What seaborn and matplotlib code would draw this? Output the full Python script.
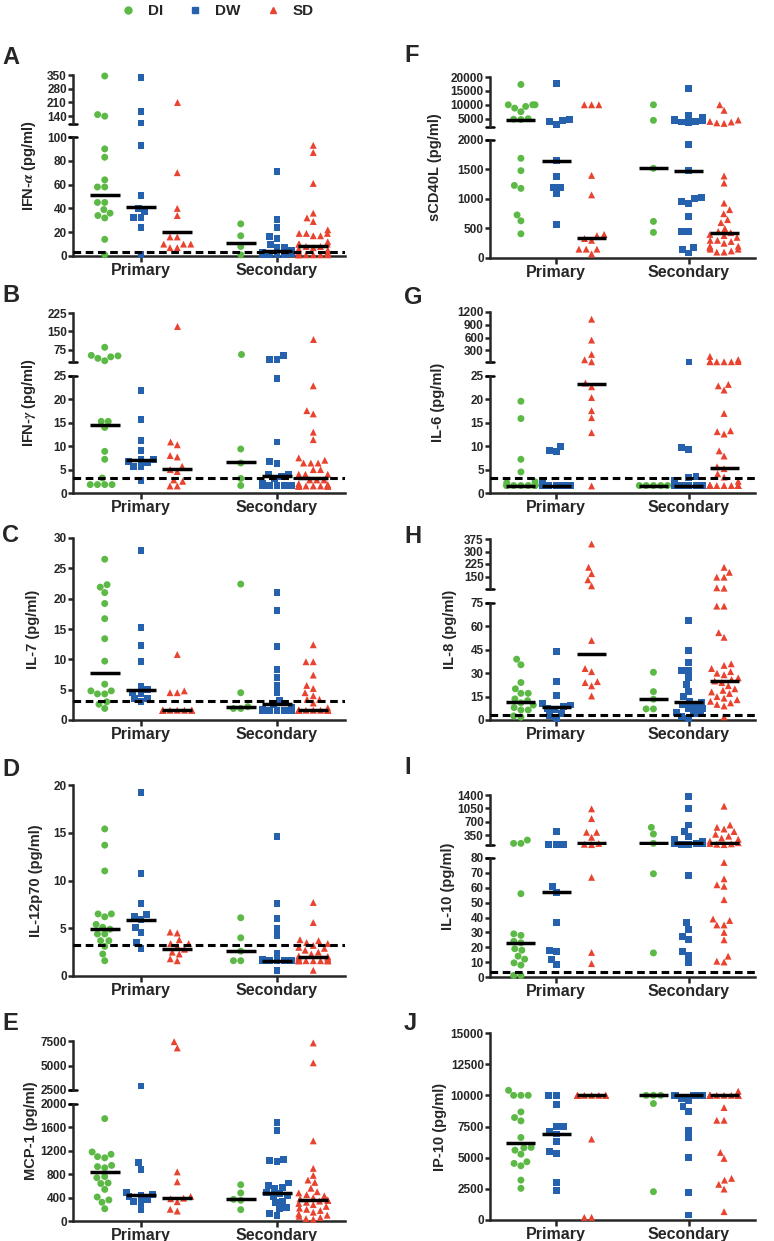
import numpy as np
import pandas as pd
import matplotlib
matplotlib.use('Agg')
import matplotlib.pyplot as plt
from matplotlib.lines import Line2D
from matplotlib.markers import MarkerStyle
import seaborn as sns
import warnings
warnings.filterwarnings('ignore')

phases = ['Primary', 'Secondary']
groups = ['DI', 'DW', 'SD']
colors = ['#5cb946', '#2561ad', '#e9432f']
markers = ['o', 's', '^']

# IFN-alpha
ifna_di_p = [345, 148, 140, 90, 83, 64, 58, 58, 45, 45, 39, 36, 34, 32, 14, 1]
ifna_dw_p = [336, 163, 105, 93, 51, 40, 37, 32, 32, 24, 1]
ifna_sd_p = [210, 70, 40, 34, 16, 16, 10, 10, 10, 7, 7]
ifna_di_s = [27, 17, 8, 1]
ifna_dw_s = [71, 31, 24, 16, 15, 10, 7, 7, 5, 3, 2, 1, 1, 1, 1]
ifna_sd_s = [93, 87, 61, 36, 32, 29, 22, 19, 19, 19, 17, 17, 12, 10, 10, 10, 8, 8, 7, 6,
             5, 4, 3, 2, 2, 1, 1, 1, 1, 1, 1]
ifna_med = [51, 41, 20.5, 11, 4, 8]

# IFN-gamma
ifng_di_p = [85, 52, 50, 46, 40, 30, 15.3, 15.3, 14, 8.9, 7.2, 3.2, 1.8, 1.8, 1.8, 1.8]
ifng_dw_p = [22, 15.8, 11.2, 9, 7.2, 7.2, 6.7, 6.5, 5.7, 5.7, 2.7]
ifng_sd_p = [170, 10.9, 10.3, 8, 7.7, 5.7, 5, 4.6, 2.8, 2.5, 1.5, 1.5]
ifng_di_s = [57, 9.4, 6.4, 3.1, 1.6]
ifng_dw_s = [50, 36, 36, 24.5, 10.9, 6.7, 6.4, 3.9, 3.9, 3.5, 3, 2, 1.7, 1.6, 1.6, 1.6, 1.6]
ifng_sd_s = [119, 22.9, 17.6, 16.9, 13, 11.4, 7.5, 7, 6.4, 6.4, 6.4, 5, 5, 4, 4, 4, 2.8, 2.8,
             2.8, 2, 1.8, 1.6, 1.5, 1.5, 1.5, 1.5, 1.5, 1.5, 1.5, 1.5, 1.5, 1.5, 1.5]
ifng_med = [14.5, 7, 5.2, 6.6, 3.6, 3.3]

# IL-7
il7_di_p = [26.5, 22.3, 21.9, 21, 19.2, 16.7, 13.4, 9.7, 5.9, 4.8, 4.8, 4.3, 4.3, 3, 2.6, 1.9]
il7_dw_p = [28, 15.2, 12.3, 9.6, 5.6, 5, 4.6, 4.4, 3.5, 3.5, 3.0]
il7_sd_p = [10.8, 4.8, 4.5, 4.5, 1.6, 1.6, 1.6, 1.6, 1.6, 1.6, 1.6, 1.6]
il7_di_s = [22.4, 4.5, 2.2, 1.9, 1.9]
il7_dw_s = [21, 18.1, 12.1, 8.3, 7, 5.7, 4.5, 3.2, 2.6, 2, 1.7, 1.6, 1.6, 1.6, 1.6, 1.6, 1.6, 1.6]
il7_sd_s = [12.4, 9.6, 9.6, 7.4, 5.7, 5.2, 4.5, 4, 3.4, 3.4, 2.8, 2, 1.6, 1.6, 1.6, 1.6,
            1.6, 1.6, 1.6, 1.6, 1.6, 1.6, 1.6, 1.6]
il7_med = [7.8, 4.9, 1.6, 2.2, 2.7, 1.6]

# IL-12p70
il12_di_p = [15.4, 13.7, 11, 6.5, 6.5, 6.2, 5.4, 5.1, 4.9, 4.4, 4.4, 3.7, 3.7, 3.1, 2.3, 1.6]
il12_dw_p = [19.2, 10.7, 7.6, 6.4, 6.2, 5.9, 5.1, 4.6, 3.5, 2.9]
il12_sd_p = [4.6, 4.5, 3.8, 3.4, 3.4, 3.1, 2.8, 2.5, 2.3, 1.8, 1.6]
il12_di_s = [6.1, 4, 2.6, 1.6, 1.6]
il12_dw_s = [14.6, 7.6, 6, 5, 4.2, 2.4, 1.7, 1.6, 1.6, 1.6, 1.6, 1.6, 0.6]
il12_sd_s = [7.7, 5.6, 3.8, 3.7, 3.5, 3.4, 3.2, 3.0, 2.9, 2.7, 2.5, 2.3, 2.1, 2.0, 2.0, 1.9,
             1.8, 1.7, 1.6, 1.6, 1.6, 1.6, 1.6, 1.6, 1.6, 1.6, 1.6, 0.6]
il12_med = [4.9, 5.9, 2.8, 2.6, 1.6, 2.0]

# MCP-1
mcp_di_p = [1750, 1180, 1140, 1100, 1080, 950, 930, 910, 760, 740, 650, 640, 540, 410, 360, 320, 210]
mcp_dw_p = [2940, 994, 885, 480, 460, 440, 420, 370, 330, 320, 200]
mcp_sd_p = [7430, 6790, 840, 670, 420, 390, 380, 330, 200, 170]
mcp_di_s = [620, 480, 370, 354, 194]
mcp_dw_s = [1680, 1540, 1050, 1040, 1010, 650, 610, 580, 560, 480, 470, 430, 420, 340, 310,
            230, 210, 130, 100]
mcp_sd_s = [7300, 5270, 1370, 900, 780, 700, 660, 560, 500, 480, 450, 430, 400, 380, 360, 350,
            340, 320, 300, 280, 250, 220, 200, 180, 150, 120, 100, 80, 60, 40, 30]
mcp_med = [835, 450, 390, 370, 480, 360]

# sCD40L
cd40_di_p = [17300, 10000, 10000, 10000, 9400, 8800, 7500, 5000, 4800, 4700, 1690, 1480, 1230,
             1180, 730, 630, 410]
cd40_dw_p = [17600, 4700, 4400, 4000, 3000, 1650, 1380, 1200, 1200, 1090, 575]
cd40_sd_p = [10000, 10000, 10000, 1400, 1070, 400, 380, 330, 300, 150, 150, 150, 70]
cd40_di_s = [10000, 4400, 1520, 620, 434]
cd40_dw_s = [16000, 6000, 5500, 4800, 4500, 4200, 4000, 3800, 3500, 1920, 1480, 1020, 1010, 960,
             930, 700, 450, 450, 170, 140, 85]
cd40_sd_s = [10000, 8000, 4500, 4000, 3800, 3500, 3300, 1390, 1270, 930, 820, 750, 650, 600, 500,
             450, 430, 400, 380, 350, 300, 300, 280, 250, 200, 200, 180, 150, 150, 120, 100, 100]
cd40_med = [4700, 1650, 340, 1520, 1480, 430]

# IL-6
il6_di_p = [19.6, 15.9, 7.2, 4.5, 2.4, 2.2, 1.8, 1.6, 1.6, 1.6, 1.6, 1.6, 1.6, 1.6, 1.6, 1.6]
il6_dw_p = [10, 9.1, 8.8, 2.7, 1.6, 1.6, 1.6, 1.6, 1.6, 1.6, 1.6]
il6_sd_p = [1030, 540, 204, 77, 30, 23.5, 22.7, 20.4, 17.6, 16.1, 12.9, 1.5]
il6_di_s = [1.6, 1.6, 1.6, 1.6, 1.6]
il6_dw_s = [30, 9.7, 9.3, 3.5, 3.3, 2.7, 1.6, 1.6, 1.6, 1.6, 1.6, 1.6, 1.6, 1.6, 1.6, 1.6, 1.6]
il6_sd_s = [157, 80, 40, 35, 30, 30, 30, 30, 23.2, 22.9, 22, 17, 13.3, 13.1, 12.6, 9, 7.9, 5.6,
            5.2, 4.1, 3.4, 2.5, 1.6, 1.6, 1.6, 1.6, 1.6, 1.6, 1.6, 1.6, 1.6, 1.6, 1.6, 1.6]
il6_med = [1.6, 1.6, 23.3, 1.6, 1.6, 5.4]

# IL-8
il8_di_p = [39, 35.4, 24, 20, 17.1, 17.1, 13.5, 12.4, 11, 9.6, 8, 6.4, 6.4, 2.6, 1.8]
il8_dw_p = [44, 24.6, 15.9, 10.3, 9.6, 8.5, 7.5, 6.4, 4.3, 3, 1]
il8_sd_p = [345, 205, 167, 130, 94, 51, 33, 31, 24.6, 24, 21.9, 15.4]
il8_di_s = [30.6, 18.2, 13.3, 7.1, 7.1]
il8_dw_s = [64, 44.4, 36.9, 31.7, 31.7, 27.2, 22.5, 18.2, 15, 12, 11.4, 10, 8.6, 7.5, 7.5, 5,
            4.3, 4.3, 2, 1]
il8_sd_s = [205, 175, 146, 146, 82, 80, 73, 73, 56, 53, 36, 35, 33, 31, 30, 29, 27, 26, 25, 24,
            22, 20, 19, 18, 17, 15, 14, 13, 12, 11, 10, 9, 2]
il8_med = [11.4, 8.2, 42, 13.3, 11.4, 25]

# IL-10
il10_di_p = [228, 142, 142, 56, 29, 28, 24, 23, 19, 18, 14, 12, 9.5, 8, 1, 1]
il10_dw_p = [463, 125, 125, 125, 61, 57, 36.5, 17.6, 16.9, 11.7, 8.3]
il10_sd_p = [1040, 787, 430, 430, 300, 140, 120, 110, 67, 16.5, 9]
il10_di_s = [558, 385, 142, 69.4, 16.2]
il10_dw_s = [1356, 1040, 620, 463, 316, 250, 200, 180, 150, 140, 130, 120, 110, 68, 36.5, 32,
             27, 25, 17, 14.7, 10]
il10_sd_s = [1110, 620, 560, 515, 450, 380, 330, 280, 250, 200, 160, 140, 130, 120, 110, 77, 66,
             62, 61, 52, 39, 38, 35, 35, 30, 25, 14, 10.6, 10.1]
il10_med = [23, 57, 142, 142, 142, 142]

# IP-10
ip10_di_p = [10400, 10000, 10000, 10000, 8670, 8220, 7950, 6620, 5820, 5790, 5600, 5280, 4670,
             4540, 4350, 3200, 2540]
ip10_dw_p = [10000, 10000, 9290, 7530, 7530, 7070, 6900, 6330, 5520, 5340, 2990, 2350]
ip10_sd_p = [10000, 10000, 10000, 10000, 10000, 10000, 10000, 10000, 6490, 210, 210]
ip10_di_s = [10000, 10000, 10000, 9340, 2270]
ip10_dw_s = [10000, 10000, 10000, 10000, 10000, 10000, 10000, 10000, 10000, 9740, 9550, 9070,
             8730, 7150, 6590, 5020, 2190, 400]
ip10_sd_s = [10330, 10000, 10000, 10000, 10000, 10000, 10000, 10000, 10000, 10000, 10000, 9020,
             8000, 8000, 5420, 4940, 3340, 3200, 2860, 2480, 670]
ip10_med = [6150, 6930, 10000, 10000, 10000, 10000]

LOD = 3.2

sns.set_style('ticks')
plt.rcParams['font.family'] = ['Liberation Sans', 'DejaVu Sans']
plt.rcParams['font.weight'] = 'bold'
plt.rcParams['mathtext.fontset'] = 'stix'

pal = dict(zip(groups, colors))
W, H = 774, 1241
fig = plt.figure(figsize=(W / 100, H / 100), dpi=100)
step = 0.8 / 3
offsets = np.array([-step, 0, step])


def marker_path(m):
    ms = MarkerStyle(m)
    return ms.get_path().transformed(ms.get_transform())


def make_frame(lists):
    rows = []
    for k, vals in enumerate(lists):
        xpos = k // 3 + offsets[k % 3]
        rows += [(phases[k // 3], groups[k % 3], xpos, v) for v in vals]
    return pd.DataFrame(rows, columns=['phase', 'group', 'x', 'value'])


def add_ax(x0, x1, y0, y1):
    return fig.add_axes([x0 / W, 1 - y1 / H, (x1 - x0) / W, (y1 - y0) / H])


def draw_axis(ax, df, meds, lo, hi, ylim, ticks, is_bottom, lod, cap):
    sub = df[(df['value'] > lo) & (df['value'] <= hi)]
    sns.swarmplot(data=sub, x='x', y='value', hue='group', hue_order=groups, palette=pal,
                  native_scale=True, orient='x', size=5, legend=False, ax=ax)
    # one marker shape per group
    for coll in ax.collections:
        pts = coll.get_offsets()
        if len(pts) == 0:
            continue
        x0 = pts[0][0]
        gi = int(round((x0 - round(x0)) / step)) + 1
        coll.set_paths([marker_path(markers[gi])])
        coll.set_clip_on(False)
    for k, med in enumerate(meds):
        if lo < med <= hi:
            x = k // 3 + offsets[k % 3]
            ax.hlines(med, x - 0.11, x + 0.11, color='black', lw=2.5, zorder=5)
    ax.set_xlim(-0.5, 1.5)
    ax.set_ylim(*ylim)
    ax.set_yticks(ticks)
    ax.set_yticklabels([str(t) for t in ticks])
    ax.set_xlabel('')
    ax.set_ylabel('')
    sns.despine(ax=ax)
    ax.spines['left'].set_linewidth(1.8)
    ax.spines['bottom'].set_linewidth(1.8)
    ax.tick_params(axis='y', direction='out', length=3.5, width=1.8, labelsize=8.5, pad=1)
    if is_bottom:
        ax.set_xticks([0, 1])
        ax.set_xticklabels(phases)
        ax.tick_params(axis='x', direction='out', length=4, width=1.8, labelsize=11.5, pad=1)
        if lod is not None:
            ax.axhline(lod, color='black', lw=2.2, ls=(0, (2.5, 1.5)), zorder=4)
    else:
        ax.spines['bottom'].set_visible(False)
        ax.tick_params(axis='x', bottom=False, labelbottom=False)
    if cap is not None:
        ax.plot([-0.016, 0.016], [cap, cap], transform=ax.transAxes, color='black',
                lw=1.8, clip_on=False)


def draw_panel(letter, ylabel, lists, meds, col, top, bottom, lod, lab_x, let_y):
    df = make_frame(lists)
    x0, x1 = (73, 345) if col == 0 else (490, 755)
    by0, by1, bticks, bylim = bottom
    if top is not None:
        ty0, ty1, tticks, tylim = top
        tax = add_ax(x0, x1, ty0, ty1)
        draw_axis(tax, df, meds, bylim[1], np.inf, tylim, tticks, False, None, 0)
        y_top = ty0
    else:
        y_top = by0
    bax = add_ax(x0, x1, by0, by1)
    draw_axis(bax, df, meds, -np.inf, bylim[1], bylim, bticks, True, lod,
              1 if top is not None else None)
    fig.text(lab_x / W, 1 - (y_top + by1) / 2 / H, ylabel, rotation=90, ha='center',
             va='center', fontsize=10.5, fontweight='bold')
    fig.text((2 if col == 0 else 404) / W, 1 - let_y / H, letter, fontsize=17,
             fontweight='bold', va='center', ha='left')


draw_panel('A', 'IFN-$\\alpha$ (pg/ml)',
           [ifna_di_p, ifna_dw_p, ifna_sd_p, ifna_di_s, ifna_dw_s, ifna_sd_s], ifna_med, 0,
           (75, 124, [140, 210, 280, 350], (100, 350)),
           (137, 256, [0, 20, 40, 60, 80, 100], (0, 100)), LOD, 29, 57)
draw_panel('B', 'IFN-$\\gamma$ (pg/ml)',
           [ifng_di_p, ifng_dw_p, ifng_sd_p, ifng_di_s, ifng_dw_s, ifng_sd_s], ifng_med, 0,
           (313, 362, [75, 150, 225], (25, 225)),
           (376, 493, [0, 5, 10, 15, 20, 25], (0, 25)), LOD, 29, 295)
draw_panel('C', 'IL-7 (pg/ml)',
           [il7_di_p, il7_dw_p, il7_sd_p, il7_di_s, il7_dw_s, il7_sd_s], il7_med, 0, None,
           (538, 720, [0, 5, 10, 15, 20, 25, 30], (0, 30)), LOD, 33, 536)
draw_panel('D', 'IL-12p70 (pg/ml)',
           [il12_di_p, il12_dw_p, il12_sd_p, il12_di_s, il12_dw_s, il12_sd_s], il12_med, 0, None,
           (785, 976, [0, 5, 10, 15, 20], (0, 20)), LOD, 36, 769)
draw_panel('E', 'MCP-1 (pg/ml)',
           [mcp_di_p, mcp_dw_p, mcp_sd_p, mcp_di_s, mcp_dw_s, mcp_sd_s], mcp_med, 0,
           (1041, 1090, [2500, 5000, 7500], (2500, 7500)),
           (1104, 1221, [0, 400, 800, 1200, 1600, 2000], (0, 2000)), None, 31, 1024)
draw_panel('F', 'sCD40L (pg/ml)',
           [cd40_di_p, cd40_dw_p, cd40_sd_p, cd40_di_s, cd40_dw_s, cd40_sd_s], cd40_med, 1,
           (77, 127, [5000, 10000, 15000, 20000], (2000, 20000)),
           (140, 258, [0, 500, 1000, 1500, 2000], (0, 2000)), None, 435, 55)
draw_panel('G', 'IL-6 (pg/ml)',
           [il6_di_p, il6_dw_p, il6_sd_p, il6_di_s, il6_dw_s, il6_sd_s], il6_med, 1,
           (312, 362, [300, 600, 900, 1200], (25, 1200)),
           (376, 493, [0, 5, 10, 15, 20, 25], (0, 25)), LOD, 438, 297)
draw_panel('H', 'IL-8 (pg/ml)',
           [il8_di_p, il8_dw_p, il8_sd_p, il8_di_s, il8_dw_s, il8_sd_s], il8_med, 1,
           (539, 589, [150, 225, 300, 375], (75, 375)),
           (603, 720, [0, 15, 30, 45, 60, 75], (0, 75)), LOD, 450, 537)
draw_panel('I', 'IL-10 (pg/ml)',
           [il10_di_p, il10_dw_p, il10_sd_p, il10_di_s, il10_dw_s, il10_sd_s], il10_med, 1,
           (795, 845, [350, 700, 1050, 1400], (100, 1400)),
           (858, 977, [0, 10, 20, 30, 40, 50, 60, 70, 80], (0, 80)), LOD, 448, 767)
draw_panel('J', 'IP-10 (pg/ml)',
           [ip10_di_p, ip10_dw_p, ip10_sd_p, ip10_di_s, ip10_dw_s, ip10_sd_s], ip10_med, 1, None,
           (1033, 1220, [0, 2500, 5000, 7500, 10000, 12500, 15000], (0, 15000)), None, 440, 1023)

handles = [Line2D([], [], marker=m, color=c, ls='', markersize=5)
           for m, c in zip(markers, colors)]
fig.legend(handles, groups, loc='upper center', bbox_to_anchor=(217 / W, 1.004), ncol=3,
           frameon=False, fontsize=11, handlelength=1, handletextpad=0.8, columnspacing=1.6,
           borderaxespad=0.2)

fig.savefig('out.png', dpi=100)
